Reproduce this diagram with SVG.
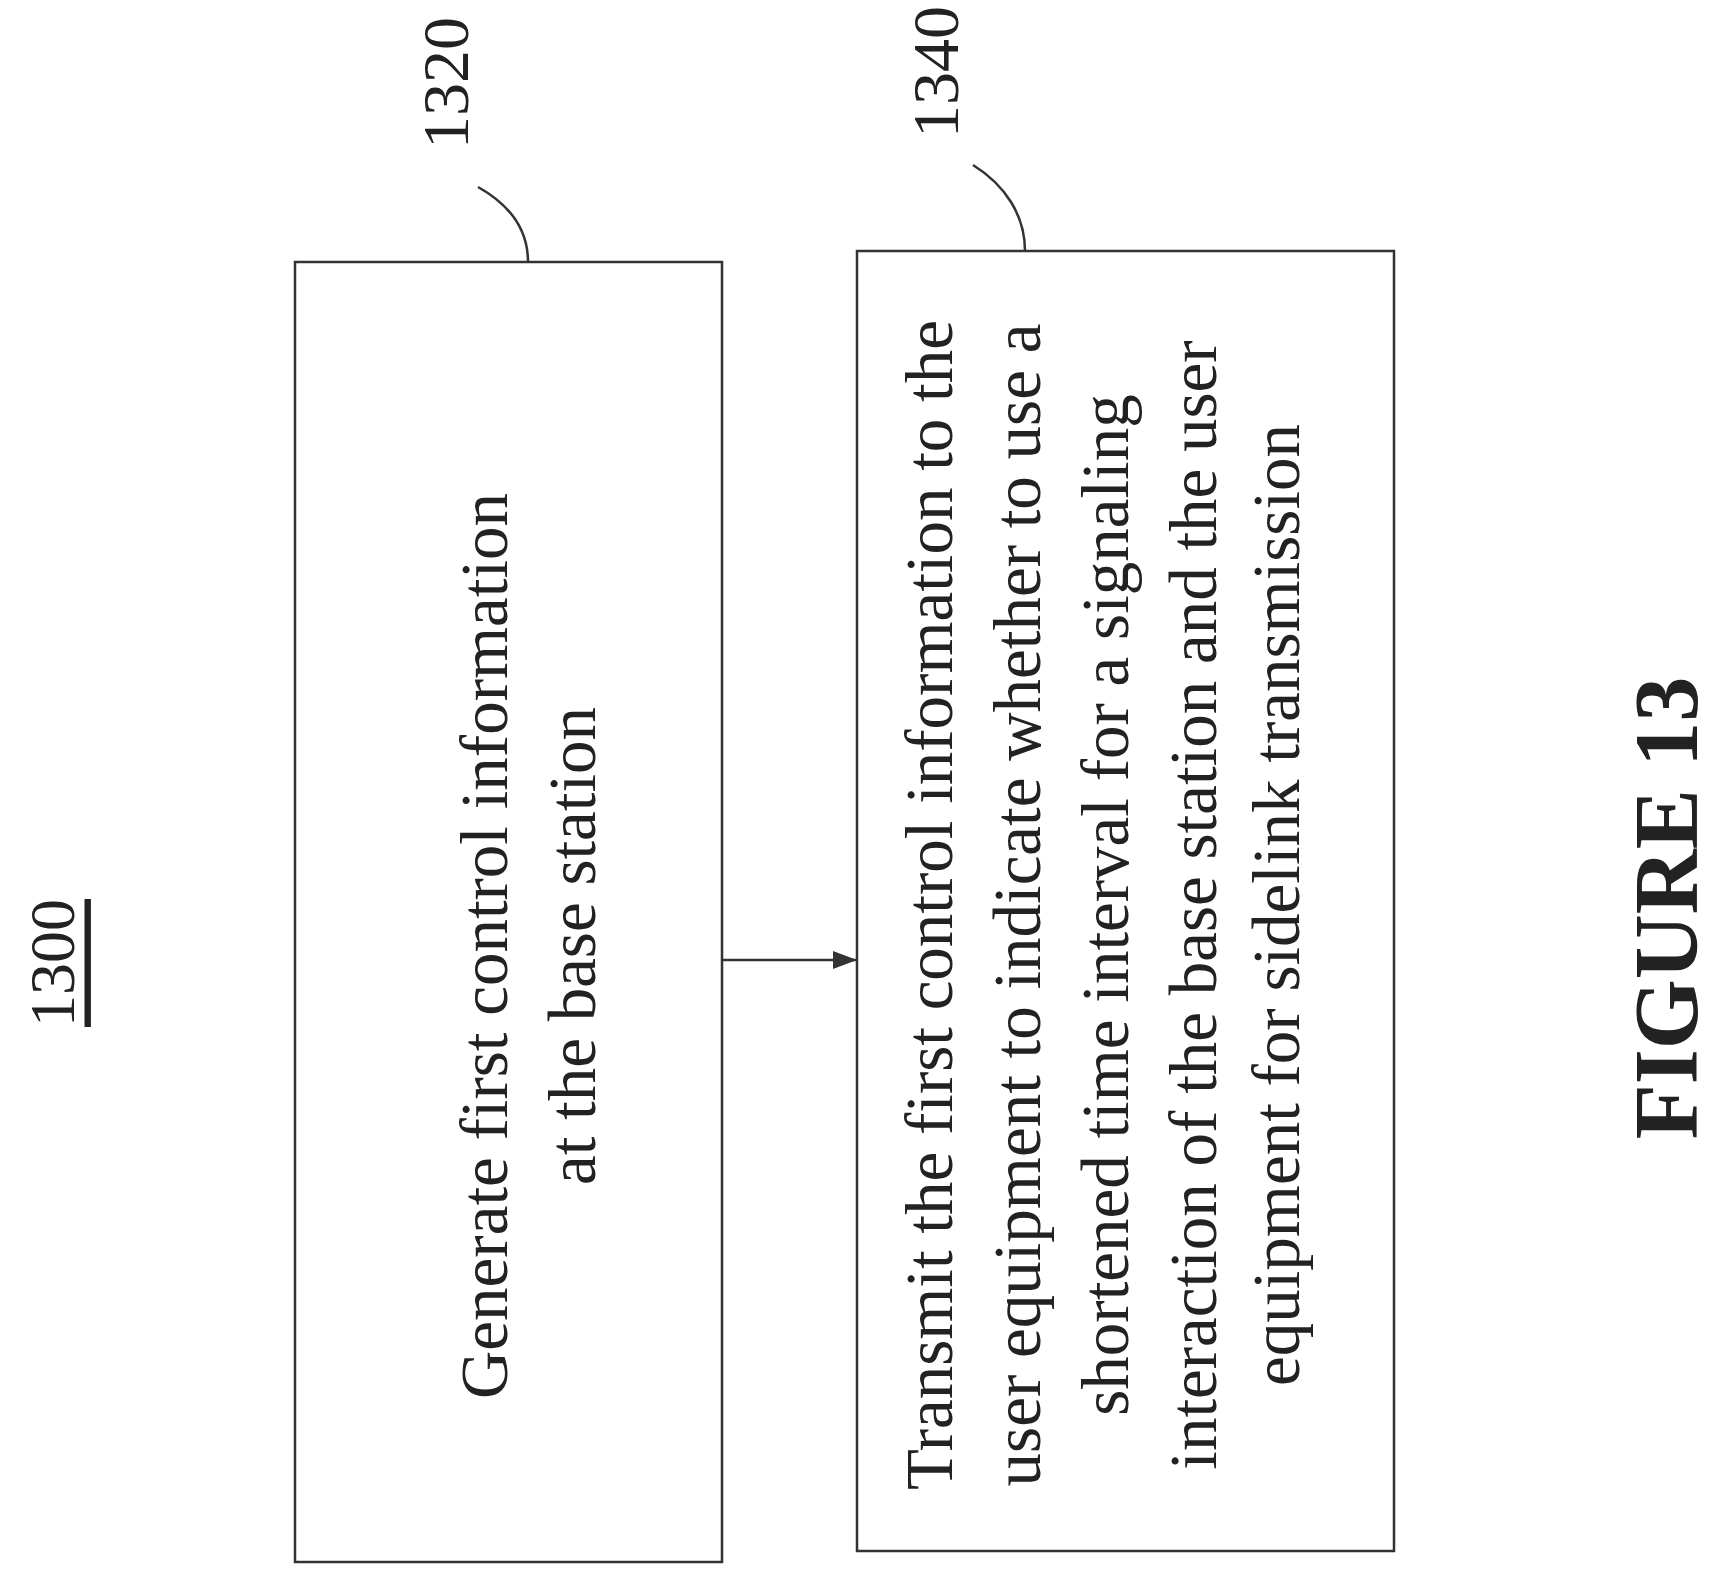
<svg xmlns="http://www.w3.org/2000/svg" width="1715" height="1585" viewBox="0 0 1715 1585">
<style>
text{font-family:"Liberation Serif","Times New Roman",serif;fill:#222;text-anchor:middle;dominant-baseline:central}
.b{fill:#fff;stroke:#333;stroke-width:2.5}
.t{font-size:67px}
.l{fill:none;stroke:#333;stroke-width:2.5}
</style>
<defs><marker id="a" markerWidth="24" markerHeight="18" refX="24" refY="9" orient="auto" markerUnits="userSpaceOnUse"><path d="M0,0L24,9L0,18z" fill="#333"/></marker></defs>
<rect width="1715" height="1585" fill="#fff"/>
<g id="title"><text transform="translate(52,963) rotate(-90)" font-size="64" text-decoration="underline">1300</text></g>
<g id="n1320">
<rect class="b" x="295" y="262" width="427" height="1300"/>
<text class="t" transform="translate(484,946) rotate(-90)">Generate first control information</text>
<text class="t" transform="translate(572,946) rotate(-90)">at the base station</text>
<text transform="translate(445,83) rotate(-90)" font-size="66">1320</text>
</g>
<g id="n1340">
<rect class="b" x="857" y="251" width="537" height="1300"/>
<text class="t" transform="translate(929,905) rotate(-90)">Transmit the first control information to the</text>
<text class="t" transform="translate(1017,905) rotate(-90)">user equipment to indicate whether to use a</text>
<text class="t" transform="translate(1105,905) rotate(-90)">shortened time interval for a signaling</text>
<text class="t" transform="translate(1193,905) rotate(-90)">interaction of the base station and the user</text>
<text class="t" transform="translate(1276,905) rotate(-90)">equipment for sidelink transmission</text>
<text transform="translate(935,72) rotate(-90)" font-size="66">1340</text>
</g>
<g id="fig"><text transform="translate(1666,908) rotate(-90)" font-size="90" font-weight="bold">FIGURE 13</text></g>
<g id="connectors">
<path class="l" d="M478,187 C510,205 528,230 528,262"/>
<path class="l" d="M973,165 C1005,185 1025,215 1025,251"/>
<path class="l" d="M722,960 H857" marker-end="url(#a)"/>
</g>
</svg>
